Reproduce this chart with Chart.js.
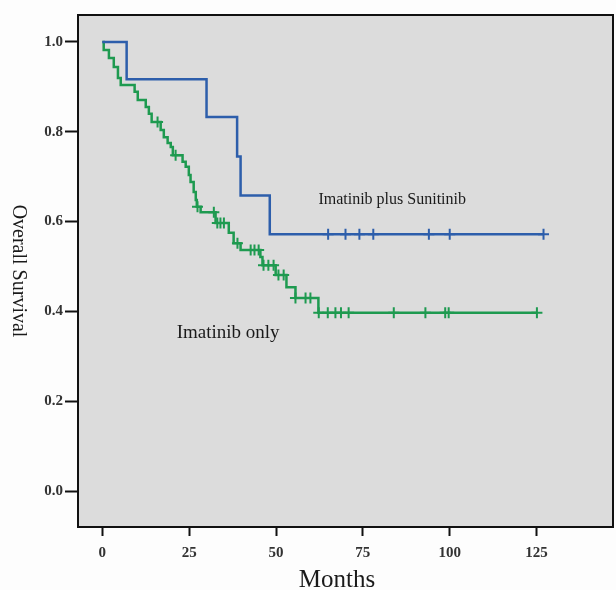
<!DOCTYPE html>
<html>
<head>
<meta charset="utf-8">
<script src="https://cdn.jsdelivr.net/npm/chart.js@4/dist/chart.umd.min.js"></script>
<style>
  body { margin: 0; background: #fdfdfd; }
  #myChart { display: block; }
</style>
</head>
<body>
<canvas id="myChart" width="616" height="590"></canvas>
<script>
// survival curves (time in months, survival after the drop)
var comboTimes = [0, 7, 30, 38.8, 39.8, 48.2, 127];
var comboSurv  = [1, 0.917, 0.833, 0.745, 0.658, 0.572, 0.572];
var comboCensored = [65, 70, 74, 78, 94, 100, 127];

var imaTimes = [0, 0.4, 1.9, 3.3, 4.5, 5.3, 9.3, 10.2, 12.5, 13.4, 14.2, 16.8, 17.7, 18.8, 19.7, 20.3,
                23.1, 24.0, 24.9, 25.4, 26.3, 26.9, 27.2, 28.3, 32.6, 36.4, 37.8, 39.8, 45.5, 46.1,
                49.9, 53.0, 55.6, 62.2, 125.1];
var imaSurv  = [1, 0.982, 0.964, 0.944, 0.920, 0.904, 0.889, 0.871, 0.855, 0.840, 0.822, 0.804, 0.788, 0.775, 0.766, 0.748,
                0.733, 0.722, 0.704, 0.688, 0.666, 0.648, 0.633, 0.621, 0.597, 0.575, 0.552, 0.537, 0.521, 0.503,
                0.481, 0.454, 0.430, 0.397, 0.397];
var imaCensored = [15.9, 21.1, 27.4, 32.1, 33.1, 34.0, 35.0, 38.9, 42.7, 43.8, 45.0, 46.4, 47.8, 49.3, 50.7, 52.2,
                   55.6, 58.5, 59.9, 62.3, 64.9, 67.1, 68.7, 70.9, 83.9, 93.0, 98.7, 99.7, 125.1];

var xTicks = [0, 25, 50, 75, 100, 125];
var yTicks = [0, 0.2, 0.4, 0.6, 0.8, 1.0];

var curveLabels = ["Imatinib plus Sunitinib", "Imatinib only"];

var blue = "#2d5eab", green = "#1e9a50";
var serif = "'Liberation Serif', 'Times New Roman', serif";

function toPoints(ts, vs) {
    var pts = [];
    for (var i = 0; i < ts.length; i++) pts.push({x: ts[i], y: vs[i]});
    return pts;
}

// value of the step curve at time t
function survAt(ts, vs, t) {
    var v = vs[0];
    for (var i = 0; i < ts.length; i++) { if (ts[i] <= t) v = vs[i]; }
    return v;
}

function censorPoints(cs, ts, vs) {
    return cs.map(function(t) { return {x: t, y: survAt(ts, vs, t)}; });
}

// gray plot background, frame, text labels and axis titles
var framePlugin = {
    id: 'frame',
    beforeDraw: function(chart) {
	var a = chart.chartArea, ctx = chart.ctx;
	ctx.save();
	ctx.fillStyle = "#dcdcdc";
	ctx.fillRect(a.left, a.top, a.right - a.left, a.bottom - a.top);
	ctx.restore();
    },
    afterDraw: function(chart) {
	var a = chart.chartArea, ctx = chart.ctx;
	var xs = chart.scales.x, ys = chart.scales.y;
	ctx.save();
	ctx.strokeStyle = "#111";
	ctx.lineWidth = 2;
	ctx.strokeRect(a.left, a.top, a.right - a.left, a.bottom - a.top);

	ctx.fillStyle = "#1a1a1a";
	ctx.textBaseline = "middle";
	ctx.textAlign = "left";
	ctx.font = "16px " + serif;
	ctx.fillText(curveLabels[0], xs.getPixelForValue(62.2), ys.getPixelForValue(0.648));
	ctx.font = "19px " + serif;
	ctx.fillText(curveLabels[1], xs.getPixelForValue(21.4), ys.getPixelForValue(0.352));

	// axis titles
	ctx.textAlign = "center";
	ctx.font = "25px " + serif;
	ctx.fillText("Months", 337, 580);
	ctx.translate(18, (a.top + a.bottom) / 2);
	ctx.rotate(Math.PI / 2);
	ctx.font = "20px " + serif;
	ctx.fillText("Overall Survival", 0, 0);
	ctx.restore();
    }
};

function drawChart() {
    var ctx = document.getElementById("myChart").getContext("2d");
    var tickFont = {family: serif, size: 15, weight: 'bold'};
    var myChart = new Chart(ctx, {
	type: 'line',
	data: {
	    datasets: [
		{ label: curveLabels[0], data: toPoints(comboTimes, comboSurv), borderColor: blue,
		  borderWidth: 2.5, stepped: true, pointRadius: 0, fill: false },
		{ label: curveLabels[1], data: toPoints(imaTimes, imaSurv), borderColor: green,
		  borderWidth: 2.5, stepped: true, pointRadius: 0, fill: false },
		{ type: 'scatter', data: censorPoints(comboCensored, comboTimes, comboSurv), showLine: false,
		  pointStyle: 'cross', pointRadius: 5.5, borderColor: blue, pointBorderWidth: 2 },
		{ type: 'scatter', data: censorPoints(imaCensored, imaTimes, imaSurv), showLine: false,
		  pointStyle: 'cross', pointRadius: 5.5, borderColor: green, pointBorderWidth: 2 }
	    ]
	},
	options: {
	    responsive: false,
	    animation: false,
	    layout: { autoPadding: false, padding: { top: 15, right: 3, left: 0, bottom: 0 } },
	    plugins: { legend: { display: false }, tooltip: { enabled: false } },
	    scales: {
		x: {
		    type: 'linear', min: -7, max: 147,
		    afterBuildTicks: function(s) { s.ticks = xTicks.map(function(v) { return {value: v}; }); },
		    afterFit: function(s) { s.height = 63; s.paddingLeft = 0; s.paddingRight = 0; },
		    grid: { drawOnChartArea: false, drawTicks: true, tickLength: 9, tickColor: "#111", tickWidth: 2 },
		    border: { display: true, color: "#111", width: 2 },
		    ticks: { font: tickFont, color: "#333", padding: 8, maxRotation: 0 }
		},
		y: {
		    type: 'linear', min: -0.08, max: 1.06,
		    afterBuildTicks: function(s) { s.ticks = yTicks.map(function(v) { return {value: v}; }); },
		    afterFit: function(s) { s.width = 78; s.paddingTop = 0; s.paddingBottom = 0; },
		    grid: { drawOnChartArea: false, drawTicks: true, tickLength: 13, tickColor: "#111", tickWidth: 2 },
		    border: { display: true, color: "#111", width: 2 },
		    ticks: { font: tickFont, color: "#333", padding: 2,
			     callback: function(v) { return v.toFixed(1); } }
		}
	    }
	},
	plugins: [framePlugin]
    });
}

drawChart();
</script>
</body>
</html>
